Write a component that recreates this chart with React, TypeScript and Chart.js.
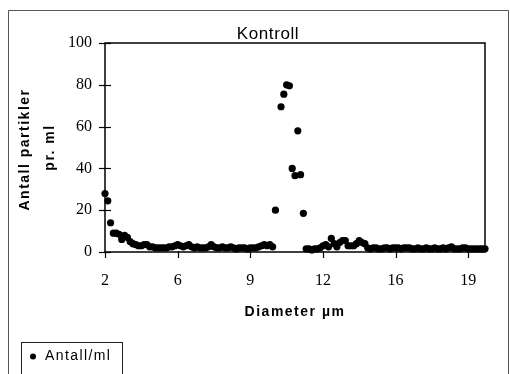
import React, { useEffect, useRef } from "react";
import { Chart, registerables } from "chart.js";

Chart.register(...registerables);

// ---- data ----
const chartTitle = "Kontroll";
const seriesName = "Antall/ml";
const xTitle = "Diameter µm";
const yTitleLines = ["Antall partikler", "pr. ml"];
const xTickLabels = ["2", "6", "9", "12", "16", "19"];
const xTickEvery = 26; // categories between labelled ticks
const yTicks = [0, 20, 40, 60, 80, 100];

// Antall partikler pr. ml, one value per diameter class (137 classes, 2 µm -> ~20 µm)
const counts: (number | null)[] = [
  28, 24.5, 14, 9, 9, 8.5, 6, 8, 7, 5,
  4, 3.5, 3, 3, 3.5, 3.5, 2.5, 2.5, 2, 2,
  2, 2, 2, 2.5, 2.5, 3, 3.5, 3, 2.5, 3,
  3.5, 2.5, 2, 2.5, 2, 2, 2, 2.5, 3.5, 2.5,
  2, 2, 2.5, 2, 2, 2.5, 2, 1.5, 2, 2,
  2, 1.5, 2, 2, 2, 2.5, 3, 3.5, 3, 3.5,
  2.5, 20, null, 69.5, 75.5, 80, 79.5, 40, 36.5, 58,
  37, 18.5, 1.5, 1.5, 1, 1.5, 1.5, 2, 3, 3.5,
  2.5, 6.5, 4, 2.5, 4.5, 5.5, 5.5, 3, 3, 3,
  4, 5.5, 4.5, 4, 2, 1.5, 2, 2, 1.5, 1.5,
  2, 2, 1.5, 2, 2, 2, 1.5, 2, 2, 2,
  1.5, 1.5, 2, 1.5, 1.5, 2, 1.5, 1.5, 2, 1.5,
  1.5, 2, 1.5, 2, 2.5, 1.5, 1.5, 1.5, 2, 2,
  1.5, 1.5, 1.5, 1.5, 1.5, 1.5, 1.5,
];

const categories = counts.map((_, i) =>
  i % xTickEvery === 0 && xTickLabels[i / xTickEvery] !== undefined ? xTickLabels[i / xTickEvery] : ""
);

const SANS = "'Liberation Sans', Arial, sans-serif";
const SERIF = "'Liberation Serif', 'Times New Roman', serif";

const decor = {
  id: "decor",
  beforeDraw(chart: any) {
    const ctx = chart.ctx;
    ctx.save();
    ctx.fillStyle = "#ffffff";
    ctx.fillRect(0, 0, chart.width, chart.height);
    ctx.restore();
  },
  beforeDatasetsDraw(chart: any) {
    const { ctx, chartArea: a, scales } = chart;
    const x = scales.x;
    const y = scales.y;
    ctx.save();
    // outer frame
    ctx.strokeStyle = "#555";
    ctx.lineWidth = 1;
    ctx.beginPath();
    ctx.moveTo(8.5, 400);
    ctx.lineTo(8.5, 10.5);
    ctx.lineTo(508.5, 10.5);
    ctx.lineTo(508.5, 400);
    ctx.stroke();

    // plot box
    ctx.strokeStyle = "#000";
    ctx.lineWidth = 1.5;
    ctx.beginPath();
    ctx.moveTo(a.left, a.bottom);
    ctx.lineTo(a.left, a.top);
    ctx.lineTo(a.right, a.top);
    ctx.lineTo(a.right, a.bottom);
    ctx.lineTo(a.left, a.bottom);
    ctx.stroke();

    // y tick marks (crossing the axis)
    ctx.lineWidth = 1.2;
    yTicks.forEach((v) => {
      const py = Math.round(y.getPixelForValue(v)) + 0.5;
      ctx.beginPath();
      ctx.moveTo(a.left - 6, py);
      ctx.lineTo(a.left + 6, py);
      ctx.stroke();
    });
    // x tick marks
    xTickLabels.forEach((_, k) => {
      const px = Math.round(x.getPixelForValue(k * xTickEvery)) + 0.5;
      ctx.beginPath();
      ctx.moveTo(px, a.bottom - 1);
      ctx.lineTo(px, a.bottom + 6);
      ctx.stroke();
    });
    ctx.restore();
  },
  afterDraw(chart: any) {
    const { ctx, chartArea: a } = chart;
    ctx.save();
    ctx.fillStyle = "#000";
    // title
    (ctx as any).letterSpacing = "0.6px";
    ctx.font = `17px ${SANS}`;
    ctx.textAlign = "center";
    ctx.textBaseline = "alphabetic";
    ctx.fillText(chartTitle, 268, 38.5);

    // x title
    (ctx as any).letterSpacing = "1.5px";
    ctx.font = `bold 14px ${SANS}`;
    ctx.textBaseline = "middle";
    ctx.fillText(xTitle, (a.left + a.right) / 2, 312);

    // y title
    const cy = (a.top + a.bottom) / 2;
    ctx.save();
    ctx.translate(25, cy + 2);
    ctx.rotate(-Math.PI / 2);
    ctx.fillText(yTitleLines[0], 0, 0);
    ctx.restore();
    ctx.save();
    ctx.translate(50, cy);
    ctx.rotate(-Math.PI / 2);
    ctx.fillText(yTitleLines[1], 0, 0);
    ctx.restore();

    // legend
    (ctx as any).letterSpacing = "1.4px";
    ctx.strokeStyle = "#222";
    ctx.lineWidth = 1;
    ctx.strokeRect(21.5, 342.5, 101, 60);
    ctx.beginPath();
    ctx.arc(33, 356.5, 3, 0, Math.PI * 2);
    ctx.fill();
    ctx.font = `14px ${SANS}`;
    ctx.textAlign = "left";
    ctx.textBaseline = "middle";
    ctx.fillText(seriesName, 45, 356);
    ctx.restore();
  },
};

export default function App() {
  const ref = useRef<HTMLCanvasElement | null>(null);
  useEffect(() => {
    document.body.style.margin = "0";
    const canvas = ref.current;
    if (!canvas) return;
    const chart = new Chart(canvas, {
      type: "line",
      data: {
        labels: categories,
        datasets: [
          {
            label: seriesName,
            data: counts,
            showLine: false,
            pointRadius: 3.6,
            pointHoverRadius: 3.6,
            pointBackgroundColor: "#000",
            pointBorderColor: "#000",
            pointBorderWidth: 0,
            borderColor: "#000",
            backgroundColor: "#000",
            clip: false as any,
          },
        ],
      },
      options: {
        animation: false,
        responsive: false,
        devicePixelRatio: 1,
        layout: { padding: { top: 43, right: 25, bottom: 0, left: 0 } },
        plugins: {
          legend: { display: false },
          title: { display: false },
          tooltip: { enabled: false },
        },
        scales: {
          x: {
            type: "category",
            offset: false,
            border: { display: false },
            grid: { display: false, drawTicks: false },
            ticks: {
              autoSkip: false,
              maxRotation: 0,
              minRotation: 0,
              padding: 19,
              color: "#000",
              font: { family: SERIF, size: 16 },
              callback: (_v: any, i: number) => categories[i],
            },
            afterFit: (s: any) => {
              s.height = 122;
              s.paddingLeft = 0;
              s.paddingRight = 0;
            },
          },
          y: {
            min: 0,
            max: 100,
            border: { display: false },
            grid: { display: false, drawTicks: false },
            ticks: {
              stepSize: 20,
              padding: 13,
              color: "#000",
              font: { family: SERIF, size: 16 },
            },
            afterFit: (s: any) => {
              s.width = 105;
              s.paddingTop = 0;
              s.paddingBottom = 0;
            },
          },
        },
      },
      plugins: [decor],
    });
    return () => chart.destroy();
  }, []);
  return (
    <div style={{ position: "fixed", left: 0, top: 0, width: 510, height: 374 }}>
      <canvas ref={ref} width={510} height={374} />
    </div>
  );
}
